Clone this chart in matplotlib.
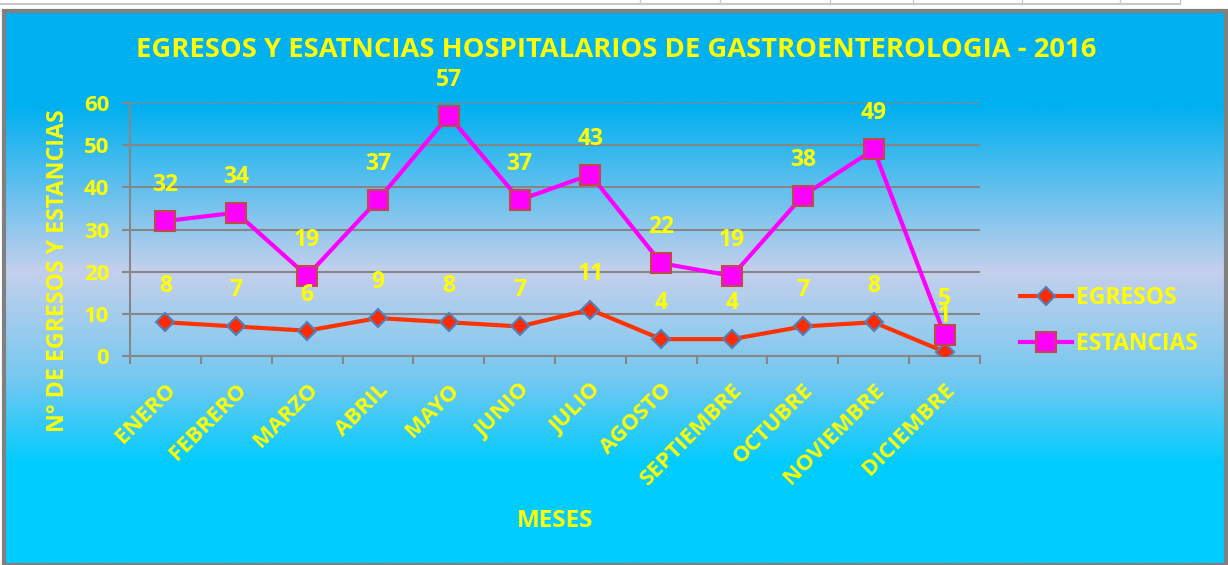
import numpy as np
import matplotlib
matplotlib.use("Agg")
import matplotlib.pyplot as plt
from matplotlib.colors import LinearSegmentedColormap
from matplotlib.patches import Rectangle

# data
meses = ["ENERO", "FEBRERO", "MARZO", "ABRIL", "MAYO", "JUNIO", "JULIO",
         "AGOSTO", "SEPTIEMBRE", "OCTUBRE", "NOVIEMBRE", "DICIEMBRE"]
egresos = [8, 7, 6, 9, 8, 7, 11, 4, 4, 7, 8, 1]
estancias = [32, 34, 19, 37, 57, 37, 43, 22, 19, 38, 49, 5]
y_ticks = [0, 10, 20, 30, 40, 50, 60]

W, H = 1228, 565
YEL = "#FFFF00"
FONT = "Open Sans"
plt.rcParams['font.family'] = [FONT, 'DejaVu Sans']
plt.rcParams['font.weight'] = 'bold'

fig = plt.figure(figsize=(W / 100, H / 100), dpi=100)
fig.patch.set_facecolor("white")

# bits of the table row above the chart
fig.add_artist(plt.Line2D([0, 1180 / W], [1 - 4 / H, 1 - 4 / H], color="#c8c8c8", lw=1.5))
for xv in [640, 720, 830, 913, 1022, 1120, 1180]:
    fig.add_artist(plt.Line2D([xv / W, xv / W], [1 - 4 / H, 1], color="#c8c8c8", lw=1))

# gradient background of the chart area
top = 11
bg = fig.add_axes([4 / W, 0, (W - 6) / W, (H - top) / H])
cmap = LinearSegmentedColormap.from_list("bg", [
    (0.0, (0 / 255, 176 / 255, 240 / 255)),
    (0.17, (0 / 255, 176 / 255, 240 / 255)),
    (0.47, (196 / 255, 208 / 255, 236 / 255)),
    (0.66, (120 / 255, 200 / 255, 240 / 255)),
    (0.82, (0 / 255, 204 / 255, 255 / 255)),
    (1.0, (0 / 255, 204 / 255, 255 / 255)),
])
grad = np.linspace(0, 1, 300).reshape(-1, 1)
bg.imshow(grad, aspect="auto", cmap=cmap, extent=[0, 1, 0, 1], origin="upper")
bg.set_xlim(0, 1)
bg.set_ylim(0, 1)
bg.axis("off")
bg.add_patch(Rectangle((0, 0), 1, 1, transform=bg.transAxes, fill=False,
                       edgecolor="#808080", lw=3, clip_on=False))

# main plot area
x0, x1, y0, y1 = 130, 980, 103, 356
ax = fig.add_axes([x0 / W, 1 - y1 / H, (x1 - x0) / W, (y1 - y0) / H])
ax.set_facecolor("none")
x = np.arange(len(meses))

ax.plot(x, egresos, color="#FF3300", lw=3, marker="D", ms=9,
        markerfacecolor="#FF2A00", markeredgecolor="#4F81BD", markeredgewidth=1.5,
        label="EGRESOS", zorder=3)
ax.plot(x, estancias, color="#FF00FF", lw=3, marker="s", ms=15,
        markerfacecolor="#FF00FF", markeredgecolor="#BE4B48", markeredgewidth=1.5,
        label="ESTANCIAS", zorder=4)

for xi, v in zip(x, egresos):
    ax.annotate(str(v), (xi, v), xytext=(0, 26), textcoords="offset points",
                ha="center", va="center", color=YEL, fontsize=16.5, fontweight="bold", zorder=5)
for xi, v in zip(x, estancias):
    ax.annotate(str(v), (xi, v), xytext=(0, 26), textcoords="offset points",
                ha="center", va="center", color=YEL, fontsize=16.5, fontweight="bold", zorder=5)

ax.set_xlim(-0.5, len(meses) - 0.5)
ax.set_ylim(0, 60)
ax.set_yticks(y_ticks)
ax.yaxis.grid(True, color="#868686", lw=1.5)
ax.set_axisbelow(True)
ax.set_xticks(x)
ax.set_xticklabels(meses, rotation=45, ha="right", rotation_mode="anchor",
                   color=YEL, fontsize=16, fontweight="bold")
ax.set_xticks(np.arange(-0.5, len(meses), 1), minor=True)
ax.tick_params(axis="x", which="major", length=0, pad=17)
ax.tick_params(axis="x", which="minor", length=6, color="#868686", width=1.5)
ax.tick_params(axis="y", length=6, color="#868686", width=1.5, pad=9,
               labelcolor=YEL, labelsize=16)
for lab in ax.get_yticklabels():
    lab.set_fontweight("bold")
for s in ["top", "right"]:
    ax.spines[s].set_visible(False)
for s in ["left", "bottom"]:
    ax.spines[s].set_color("#868686")
    ax.spines[s].set_linewidth(1.5)

fig.text(616 / W, 1 - 50 / H, "EGRESOS Y ESATNCIAS HOSPITALARIOS DE GASTROENTEROLOGIA - 2016",
         ha="center", va="center", color=YEL, fontsize=19.7, fontweight="bold")
fig.text(58 / W, 1 - 271 / H, "N° DE EGRESOS Y ESTANCIAS", rotation=90,
         ha="center", va="center", color=YEL, fontsize=16.7, fontweight="bold")
fig.text(555 / W, 1 - 521 / H, "MESES", ha="center", va="center",
         color=YEL, fontsize=17.5, fontweight="bold")

leg = fig.legend(loc="center left", bbox_to_anchor=(999 / W, 1 - 321 / H),
                 frameon=False, handlelength=2.3, labelspacing=1.0,
                 handletextpad=0.15, prop={"family": FONT, "weight": "bold", "size": 16.5})
for t in leg.get_texts():
    t.set_color(YEL)

fig.savefig("out.png", dpi=100)
